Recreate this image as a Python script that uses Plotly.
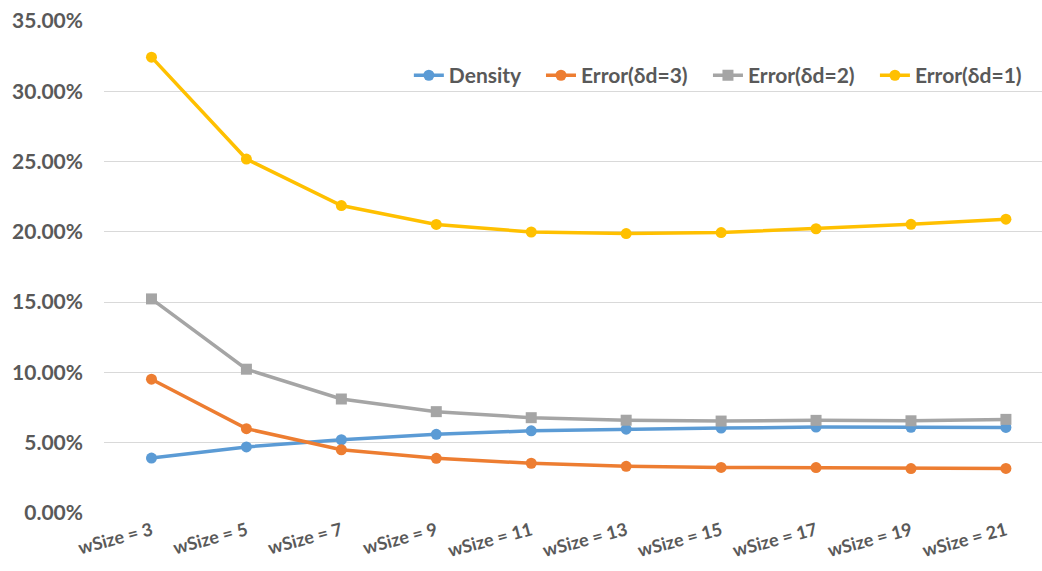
import plotly.graph_objects as go

# Window sizes on the category axis
window_sizes = [3, 5, 7, 9, 11, 13, 15, 17, 19, 21]
tick_labels = [f"wSize = {w}" for w in window_sizes]

# Series values (fractions)
density = [0.0391, 0.0470, 0.0521, 0.0560, 0.0585, 0.0596, 0.0604, 0.0611, 0.0610, 0.0609]
error_d3 = [0.0952, 0.0600, 0.0450, 0.0389, 0.0354, 0.0332, 0.0324, 0.0323, 0.0316, 0.0317]
error_d2 = [0.1523, 0.1023, 0.0811, 0.0721, 0.0678, 0.0660, 0.0654, 0.0659, 0.0656, 0.0666]
error_d1 = [0.3243, 0.2518, 0.2187, 0.2053, 0.1999, 0.1988, 0.1995, 0.2022, 0.2054, 0.2090]

series = [
    ("Density", density, "#5B9BD5", "circle", 3),
    ("Error(δd=3)", error_d3, "#ED7D31", "circle", 3),
    ("Error(δd=2)", error_d2, "#A5A5A5", "square", 3),
    ("Error(δd=1)", error_d1, "#FFC000", "circle", 0),
]

x_pos = list(range(len(window_sizes)))

fig = go.Figure()
for name, vals, color, symbol, gap in series:
    fig.add_trace(go.Scatter(
        x=x_pos, y=vals, name=name + "\u00a0" * gap, mode="lines+markers",
        line=dict(color=color, width=3.5),
        marker=dict(color=color, size=11, symbol=symbol),
    ))

font_family = "Lato, 'Open Sans', sans-serif"
text_color = "#595959"

fig.update_layout(
    width=1042, height=571,
    margin=dict(l=104, r=0, t=21, b=58, autoexpand=False),
    paper_bgcolor="white", plot_bgcolor="white",
    font=dict(family=font_family, color=text_color),
    showlegend=True,
    legend=dict(
        orientation="h", x=0.325, y=0.889, xanchor="left", yanchor="middle",
        font=dict(size=21, family=font_family, color=text_color, weight="bold"),
        bgcolor="rgba(0,0,0,0)", itemwidth=30,
        traceorder="normal",
    ),
    xaxis=dict(
        tickmode="array", tickvals=x_pos, ticktext=tick_labels,
        range=[-0.5, 9.38], showgrid=False, zeroline=False,
        showline=False, ticks="", tickangle=-15,
        ticklabelstandoff=3,
        tickfont=dict(size=18, family=font_family, color=text_color, weight="bold"),
    ),
    yaxis=dict(
        range=[0, 0.35], dtick=0.05, tickformat=".2%",
        showgrid=True, gridcolor="#D9D9D9", gridwidth=1,
        zeroline=False, showline=False, ticks="",
        ticklabelstandoff=20,
        tickfont=dict(size=21, family=font_family, color=text_color, weight="bold"),
    ),
)

fig.write_html("out.html")
